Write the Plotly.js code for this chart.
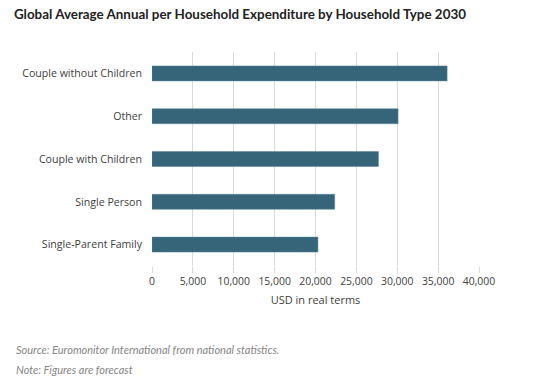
<!DOCTYPE html>
<html><head><meta charset="utf-8">
<script src="https://cdn.plot.ly/plotly-3.0.1.min.js"></script>
<style>body{margin:0;background:#fff}#c{width:535px;height:387px}</style>
</head><body><div id="c"></div>
<script>
const categories = ["Couple without Children","Other","Couple with Children","Single Person","Single-Parent Family"];
const values = [36100, 30100, 27700, 22350, 20300];
const tickVals = [0,5000,10000,15000,20000,25000,30000,35000,40000];
const tickText = ["0","5,000","10,000","15,000","20,000","25,000","30,000","35,000","40,000"];

const trace = {
  type:'bar', orientation:'h',
  x: values.slice().reverse(), y: categories.slice().reverse(),
  marker:{color:'#36657a', line:{color:'#5a8599', width:0.5}},
  width:0.35, hoverinfo:'none'
};
const layout = {
  width:535, height:387,
  margin:{l:152, r:56, t:52, b:121},
  paper_bgcolor:'#fff', plot_bgcolor:'#fff',
  showlegend:false,
  font:{family:'Open Sans, sans-serif', size:10, color:'#404040'},
  title:{text:'<b>Global Average Annual per Household Expenditure by Household Type 2030</b>',
    x:0.026, xanchor:'left', y:0.963, yanchor:'middle',
    font:{family:'Lato, sans-serif', size:13.4, color:'#222'}},
  xaxis:{range:[0,40000], tickvals:tickVals, ticktext:tickText, showgrid:true,
    gridcolor:'#d9d9d9', gridwidth:1, zeroline:false, showline:false,
    ticks:'outside', ticklen:6, tickcolor:'#d9d9d9',
    tickfont:{size:10.4, color:'#404040'},
    title:{text:'USD in real terms', font:{size:11, color:'#404040'}, standoff:8},
    fixedrange:true},
  yaxis:{range:[-0.5,4.5], showgrid:false, zeroline:false, showline:false,
    ticks:'', ticklabelstandoff:9, tickfont:{size:10.6, color:'#404040'}, fixedrange:true},
  annotations:[
    {text:'<i>Source: Euromonitor International from national statistics.</i>', xref:'paper', yref:'paper',
     x:-0.422, xanchor:'left', y:-0.388, yanchor:'middle', showarrow:false,
     font:{family:'Lato, sans-serif', size:11, color:'#858585'}},
    {text:'<i>Note: Figures are forecast</i>', xref:'paper', yref:'paper',
     x:-0.422, xanchor:'left', y:-0.482, yanchor:'middle', showarrow:false,
     font:{family:'Lato, sans-serif', size:11, color:'#858585'}}
  ]
};
Plotly.newPlot('c',[trace],layout,{displayModeBar:false, staticPlot:true});
</script></body></html>
